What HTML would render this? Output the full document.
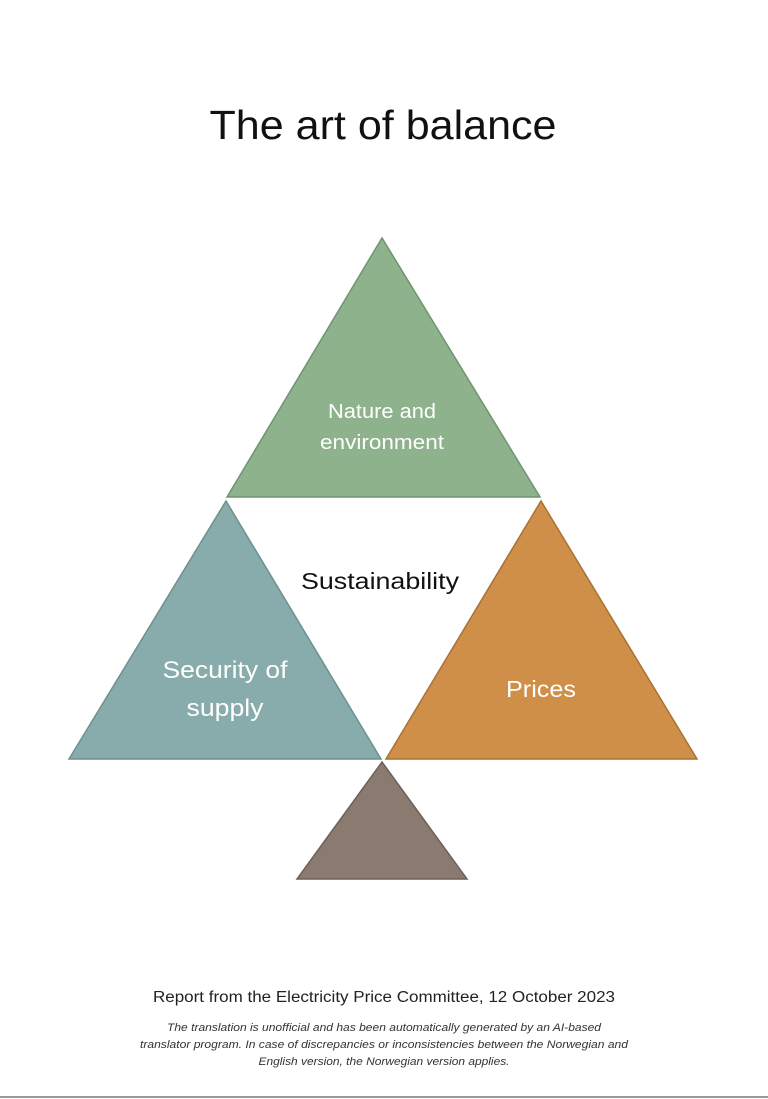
<!DOCTYPE html>
<html><head><meta charset="utf-8"><style>
html,body{margin:0;padding:0;background:#fff;}
body{width:768px;height:1099px;position:relative;overflow:hidden;font-family:"Liberation Sans",sans-serif;}
</style></head><body>
<svg width="768" height="1099" style="position:absolute;left:0;top:0" font-family="Liberation Sans, sans-serif">
<polygon points="382,238 227,497 540,497" fill="#8eb28c" stroke="#6f9470" stroke-width="1.5"/>
<polygon points="226,501 69,759 381,759" fill="#88abab" stroke="#6d9090" stroke-width="1.5"/>
<polygon points="541,501 386,759 697,759" fill="#cf8f49" stroke="#a87235" stroke-width="1.5"/>
<polygon points="382,762 297,879 467,879" fill="#8a7a70" stroke="#6e6058" stroke-width="1.5"/>
<line x1="0" y1="1097" x2="768" y2="1097" stroke="#999" stroke-width="2"/>
<text x="383" y="139" font-size="41" text-anchor="middle" fill="#111" textLength="347" lengthAdjust="spacingAndGlyphs">The art of balance</text>
<text x="382" y="418" font-size="20" text-anchor="middle" fill="#fff" textLength="108" lengthAdjust="spacingAndGlyphs">Nature and</text>
<text x="382" y="449" font-size="20" text-anchor="middle" fill="#fff" textLength="124" lengthAdjust="spacingAndGlyphs">environment</text>
<text x="380" y="589" font-size="23" text-anchor="middle" fill="#111" textLength="158" lengthAdjust="spacingAndGlyphs">Sustainability</text>
<text x="225" y="678" font-size="24" text-anchor="middle" fill="#fff" textLength="125" lengthAdjust="spacingAndGlyphs">Security of</text>
<text x="225" y="716" font-size="24" text-anchor="middle" fill="#fff" textLength="77" lengthAdjust="spacingAndGlyphs">supply</text>
<text x="541" y="697" font-size="23" text-anchor="middle" fill="#fff" textLength="70" lengthAdjust="spacingAndGlyphs">Prices</text>
<text x="384" y="1002" font-size="15.5" text-anchor="middle" fill="#222" textLength="462" lengthAdjust="spacingAndGlyphs">Report from the Electricity Price Committee, 12 October 2023</text>
<g font-size="11" font-style="italic" text-anchor="middle" fill="#333">
<text x="384" y="1031" textLength="434" lengthAdjust="spacingAndGlyphs">The translation is unofficial and has been automatically generated by an AI-based</text>
<text x="384" y="1048" textLength="488" lengthAdjust="spacingAndGlyphs">translator program. In case of discrepancies or inconsistencies between the Norwegian and</text>
<text x="384" y="1065" textLength="251" lengthAdjust="spacingAndGlyphs">English version, the Norwegian version applies.</text>
</g>
</svg>
</body></html>
